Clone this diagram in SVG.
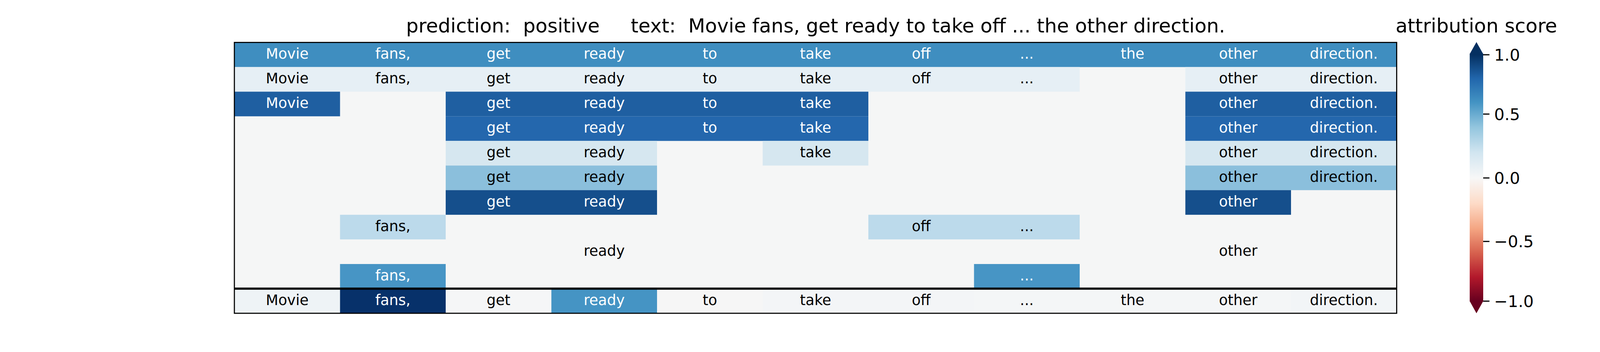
<svg xmlns="http://www.w3.org/2000/svg" width="4800" height="900" viewBox="0 0 4800 900">
<defs>
<style>
text{font-family:"DejaVu Sans","Liberation Sans",sans-serif;}
.c{font-size:37px;text-anchor:middle;}
.w{fill:#ffffff;}
.k{fill:#000000;}
.title{font-size:50px;fill:#000;}
.tick{font-size:41.7px;fill:#000;}
.tk{stroke:#000;stroke-width:3;}
</style>
<linearGradient id="rdbu" gradientUnits="userSpaceOnUse" x1="0" y1="140" x2="0" y2="770">
<stop offset="0" stop-color="#053061"/>
<stop offset="0.0963" stop-color="#2166ac"/>
<stop offset="0.1927" stop-color="#4393c3"/>
<stop offset="0.2927" stop-color="#92c5de"/>
<stop offset="0.3963" stop-color="#d1e5f0"/>
<stop offset="0.5" stop-color="#f7f7f7"/>
<stop offset="0.6032" stop-color="#fddbc7"/>
<stop offset="0.7062" stop-color="#f4a582"/>
<stop offset="0.806" stop-color="#d6604d"/>
<stop offset="0.903" stop-color="#b2182b"/>
<stop offset="1" stop-color="#67001f"/>
</linearGradient>
</defs>
<rect x="0" y="0" width="4800" height="900" fill="#ffffff"/>
<text class="title" x="2088" y="83" text-anchor="middle" xml:space="preserve">prediction:  positive     text:  Movie fans, get ready to take off ... the other direction.</text>

<g id="heatmap">
<rect x="600" y="108.5" width="2975.5" height="692.5" fill="#f5f6f6"/>
<g id="row0" fill="#3f8ec0">
<rect x="600" y="108.5" width="2975.5" height="62.95"/>
</g>
<g id="row1" fill="#e6eff5">
<rect x="600" y="171.45" width="2164" height="62.95"/>
<rect x="3034.5" y="171.45" width="541" height="62.95"/>
</g>
<g id="row2" fill="#1f5fa1">
<rect x="600" y="234.4" width="270.5" height="62.95"/>
<rect x="1141" y="234.4" width="1082" height="62.95"/>
<rect x="3034.5" y="234.4" width="541" height="62.95"/>
</g>
<g id="row3" fill="#2467ad">
<rect x="1141" y="297.35" width="1082" height="62.95"/>
<rect x="3034.5" y="297.35" width="541" height="62.95"/>
</g>
<g id="row4" fill="#d6e7f0">
<rect x="1141" y="360.3" width="541" height="62.95"/>
<rect x="1952.5" y="360.3" width="270.5" height="62.95"/>
<rect x="3034.5" y="360.3" width="541" height="62.95"/>
</g>
<g id="row5" fill="#8bbfdc">
<rect x="1141" y="423.25" width="541" height="62.95"/>
<rect x="3034.5" y="423.25" width="541" height="62.95"/>
</g>
<g id="row6" fill="#154f8c">
<rect x="1141" y="486.2" width="541" height="62.95"/>
<rect x="3034.5" y="486.2" width="270.5" height="62.95"/>
</g>
<g id="row7" fill="#bcdaeb">
<rect x="870.5" y="549.15" width="270.5" height="62.95"/>
<rect x="2223" y="549.15" width="541" height="62.95"/>
</g>
<g id="row9" fill="#4795c5">
<rect x="870.5" y="675.05" width="270.5" height="62.95"/>
<rect x="2493.5" y="675.05" width="270.5" height="62.95"/>
</g>
<g id="row10">
<rect x="600" y="738" width="270.5" height="62.95" fill="#eef3f6"/>
<rect x="870.5" y="738" width="270.5" height="62.95" fill="#07316a"/>
<rect x="1141" y="738" width="270.5" height="62.95" fill="#f5f6f7"/>
<rect x="1411.5" y="738" width="270.5" height="62.95" fill="#4594c4"/>
<rect x="1682" y="738" width="270.5" height="62.95" fill="#f6f6f6"/>
<rect x="1952.5" y="738" width="541" height="62.95" fill="#f3f5f7"/>
<rect x="2493.5" y="738" width="541" height="62.95" fill="#f4f6f7"/>
<rect x="3034.5" y="738" width="270.5" height="62.95" fill="#f4f6f7"/>
<rect x="3305" y="738" width="270.5" height="62.95" fill="#f2f5f7"/>
</g>
</g>

<g id="labels" class="c">
<g class="w">
<text x="735.25" y="150">Movie</text><text x="1005.75" y="150">fans,</text><text x="1276.25" y="150">get</text><text x="1546.75" y="150">ready</text><text x="1817.25" y="150">to</text><text x="2087.75" y="150">take</text><text x="2358.25" y="150">off</text><text x="2628.75" y="150">...</text><text x="2899.25" y="150">the</text><text x="3169.75" y="150">other</text><text x="3440.25" y="150">direction.</text>
</g>
<g class="k">
<text x="735.25" y="213">Movie</text><text x="1005.75" y="213">fans,</text><text x="1276.25" y="213">get</text><text x="1546.75" y="213">ready</text><text x="1817.25" y="213">to</text><text x="2087.75" y="213">take</text><text x="2358.25" y="213">off</text><text x="2628.75" y="213">...</text><text x="3169.75" y="213">other</text><text x="3440.25" y="213">direction.</text>
</g>
<g class="w">
<text x="735.25" y="276">Movie</text><text x="1276.25" y="276">get</text><text x="1546.75" y="276">ready</text><text x="1817.25" y="276">to</text><text x="2087.75" y="276">take</text><text x="3169.75" y="276">other</text><text x="3440.25" y="276">direction.</text>
<text x="1276.25" y="339">get</text><text x="1546.75" y="339">ready</text><text x="1817.25" y="339">to</text><text x="2087.75" y="339">take</text><text x="3169.75" y="339">other</text><text x="3440.25" y="339">direction.</text>
</g>
<g class="k">
<text x="1276.25" y="402">get</text><text x="1546.75" y="402">ready</text><text x="2087.75" y="402">take</text><text x="3169.75" y="402">other</text><text x="3440.25" y="402">direction.</text>
<text x="1276.25" y="465">get</text><text x="1546.75" y="465">ready</text><text x="3169.75" y="465">other</text><text x="3440.25" y="465">direction.</text>
</g>
<g class="w">
<text x="1276.25" y="528">get</text><text x="1546.75" y="528">ready</text><text x="3169.75" y="528">other</text>
</g>
<g class="k">
<text x="1005.75" y="591">fans,</text><text x="2358.25" y="591">off</text><text x="2628.75" y="591">...</text>
<text x="1546.75" y="654">ready</text><text x="3169.75" y="654">other</text>
</g>
<g class="w">
<text x="1005.75" y="717">fans,</text><text x="2628.75" y="717">...</text>
<text x="1005.75" y="779.5">fans,</text><text x="1546.75" y="779.5">ready</text>
</g>
<g class="k">
<text x="735.25" y="779.5">Movie</text><text x="1276.25" y="779.5">get</text><text x="1817.25" y="779.5">to</text><text x="2087.75" y="779.5">take</text><text x="2358.25" y="779.5">off</text><text x="2628.75" y="779.5">...</text><text x="2899.25" y="779.5">the</text><text x="3169.75" y="779.5">other</text><text x="3440.25" y="779.5">direction.</text>
</g>
</g>

<g id="frame">
<line x1="600" y1="738" x2="3575.5" y2="738" stroke="#000" stroke-width="5.6"/>
<rect x="600" y="108.5" width="2975.5" height="692.5" fill="none" stroke="#000" stroke-width="2.8"/>
</g>

<g id="colorbar">
<text class="title" x="3779.5" y="83" text-anchor="middle">attribution score</text>
<polygon points="3762.5,138 3779.7,107.5 3797,138" fill="#053061"/>
<rect x="3762.5" y="137" width="34.5" height="634" fill="url(#rdbu)"/>
<polygon points="3762.5,770 3779.7,801 3797,770" fill="#67001f"/>
<g class="tk">
<line x1="3797" y1="140" x2="3813" y2="140"/>
<line x1="3797" y1="291.7" x2="3813" y2="291.7"/>
<line x1="3797" y1="455" x2="3813" y2="455"/>
<line x1="3797" y1="617.3" x2="3813" y2="617.3"/>
<line x1="3797" y1="770" x2="3813" y2="770"/>
</g>
<g class="tick">
<text x="3825" y="155">1.0</text>
<text x="3825" y="306.7">0.5</text>
<text x="3825" y="470">0.0</text>
<text x="3825" y="632.3">−0.5</text>
<text x="3825" y="785">−1.0</text>
</g>
</g>
</svg>
